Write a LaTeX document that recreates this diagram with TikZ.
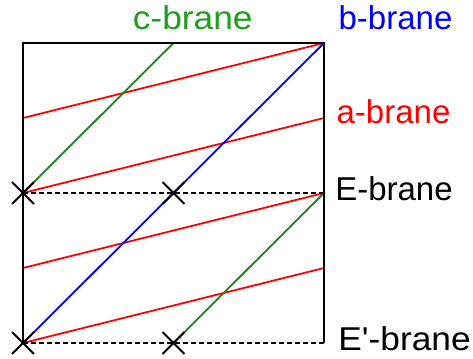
\documentclass[tikz,border=0pt]{standalone}
\usepackage{fontspec}
\setmainfont{Liberation Sans}[Ligatures=TeXOff]
\usetikzlibrary{shapes.misc}
\definecolor{lgreen}{RGB}{25,132,25}
\definecolor{tgreen}{RGB}{30,158,30}
\tikzset{
  frame/.style={line width=2.8bp, black},
  dashline/.style={line width=2bp, black, dash pattern=on 5bp off 3bp},
  abrane/.style={line width=1.8bp, red},
  bbrane/.style={line width=1.8bp, blue},
  cbrane/.style={line width=1.8bp, lgreen},
  crossmark/.style={cross out, draw=black, line width=1.8bp, minimum size=20bp, inner sep=0pt},
  lab/.style={anchor=base, inner sep=0pt, font=\fontsize{33bp}{33bp}\selectfont},
}
\begin{document}
\begin{tikzpicture}[x=1bp,y=-1bp]
\useasboundingbox (0,0) rectangle (473,358);
% corners and points
\coordinate (TL) at (23,43);
\coordinate (TM) at (173.5,43);
\coordinate (TR) at (324,43);
\coordinate (ML) at (23,193);
\coordinate (MM) at (173.5,193);
\coordinate (MR) at (324,193);
\coordinate (BL) at (23,343);
\coordinate (BM) at (173.5,343);
\coordinate (BR) at (324,343);
\coordinate (QL1) at (23,118);
\coordinate (QL3) at (23,268);
\coordinate (QR1) at (324,118);
\coordinate (QR3) at (324,268);
% a-branes
\draw[abrane] (QL1) -- (TR);
\draw[abrane] (ML) -- (QR1);
\draw[abrane] (QL3) -- (MR);
\draw[abrane] (BL) -- (QR3);
% b-brane
\draw[bbrane] (BL) -- (TR);
% c-branes
\draw[cbrane] (ML) -- (TM);
\draw[cbrane] (BM) -- (MR);
% frame
\draw[frame] (BL) -- (TL) -- (TR) -- (BR);
\draw[dashline] (ML) -- (MR);
\draw[dashline] (BL) -- (BR);
% crosses
\node[crossmark] (x1) at (ML) {};
\node[crossmark] (x2) at (MM) {};
\node[crossmark] (x3) at (BL) {};
\node[crossmark] (x4) at (BM) {};
% labels
\node[lab, text=tgreen] (lc) at (192.7,29) {\scalebox{1.07}[1]{c-brane}};
\node[lab, text=blue] (lb) at (395.5,29.3) {b-brane};
\node[lab, text=red] (la) at (393.5,123.3) {a-brane};
\node[lab, text=black] (le) at (394,200) {E-brane};
\node[lab, text=black] (lep) at (404.5,350) {\scalebox{1.07}[1]{E'-brane}};
\end{tikzpicture}
\end{document}
